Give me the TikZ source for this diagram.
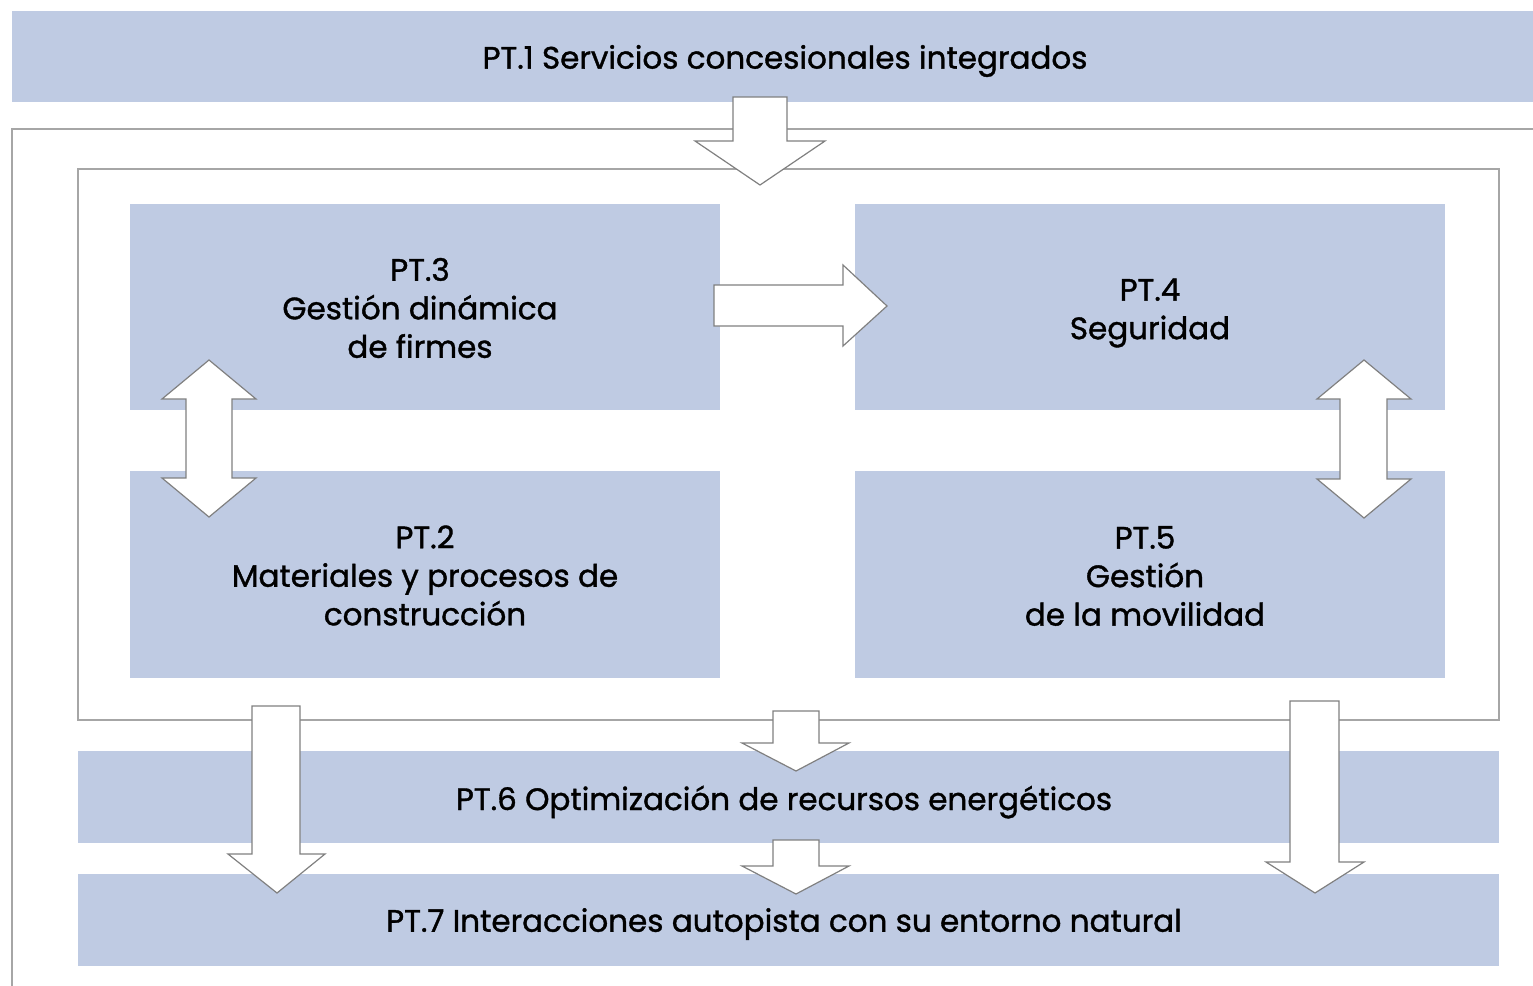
\documentclass[tikz,border=0pt]{standalone}
\usepackage{fontspec}
\setmainfont{Poppins}[UprightFeatures={FakeBold=1.2}]
\definecolor{bandblue}{RGB}{191,203,227}
\definecolor{framegray}{RGB}{166,166,166}
\definecolor{arrowgray}{RGB}{128,128,128}
\begin{document}
\begin{tikzpicture}[x=1pt,y=-1pt,
  box/.style={fill=bandblue, draw=none, inner sep=0pt},
  lbl/.style={inner sep=0pt, align=center, font=\fontsize{31}{38.5}\selectfont},
  frame/.style={draw=framegray, line width=2pt},
  blockarrow/.style={draw=arrowgray, fill=white, line width=1.2pt, line join=miter}]
\useasboundingbox (0,0) rectangle (1533,985);
% bands
\node[box, minimum width=1521pt, minimum height=91pt] (pt1) at (772.5,56.5) {};
\node[lbl] (t1) at (785,61) {PT.1 Servicios concesionales integrados};
\node[box, minimum width=1421pt, minimum height=92pt] (pt6) at (788.5,797) {};
\node[lbl] (t6) at (784,802) {PT.6 Optimización de recursos energéticos};
\node[box, minimum width=1421pt, minimum height=92pt] (pt7) at (788.5,920) {};
\node[lbl] (t7) at (784,924) {PT.7 Interacciones autopista con su entorno natural};
% frames
\begin{scope}
\clip (0,0) rectangle (1533,985);
\draw[frame] (12,990) -- (12,129) -- (1540,129);
\end{scope}
\draw[frame] (78,169) rectangle (1499,720);
% inner boxes
\node[box, minimum width=590pt, minimum height=206pt] (pt3) at (425,307) {};
\node[lbl] (t3) at (420,308) {PT.3\\Gestión dinámica\\de firmes};
\node[box, minimum width=590pt, minimum height=206pt] (pt4) at (1150,307) {};
\node[lbl] (t4) at (1150,313) {PT.4\\Seguridad};
\node[box, minimum width=590pt, minimum height=207pt] (pt2) at (425,574.5) {};
\node[lbl] (t2) at (425,575.5) {PT.2\\Materiales y procesos de\\construcción};
\node[box, minimum width=590pt, minimum height=207pt] (pt5) at (1150,574.5) {};
\node[lbl] (t5) at (1145,576) {PT.5\\Gestión\\de la movilidad};
% block arrows
% PT.1 down
\draw[blockarrow] (733,97) -- (787,97) -- (787,141) -- (825,141) -- (760,185) -- (695,141) -- (733,141) -- cycle;
% PT.3 -> PT.4
\draw[blockarrow] (714,285) -- (843,285) -- (843,265) -- (887,306) -- (843,346) -- (843,326) -- (714,326) -- cycle;
% PT.3 <-> PT.2
\draw[blockarrow] (209,360) -- (256,399) -- (232,399) -- (232,478) -- (256,478) -- (209,517) -- (162,478) -- (186,478) -- (186,399) -- (162,399) -- cycle;
% PT.4 <-> PT.5
\draw[blockarrow] (1364,360) -- (1411,399) -- (1387,399) -- (1387,479) -- (1411,479) -- (1364,518) -- (1317,479) -- (1340,479) -- (1340,399) -- (1317,399) -- cycle;
% long left down
\draw[blockarrow] (252,706) -- (300,706) -- (300,854) -- (325,854) -- (277,893) -- (228,854) -- (252,854) -- cycle;
% middle small 1
\draw[blockarrow] (773,711) -- (819,711) -- (819,743) -- (849,743) -- (796,771) -- (742,743) -- (773,743) -- cycle;
% middle small 2
\draw[blockarrow] (773,840) -- (819,840) -- (819,866) -- (849,866) -- (796,894) -- (742,866) -- (773,866) -- cycle;
% long right down
\draw[blockarrow] (1290,701) -- (1339,701) -- (1339,862) -- (1364,862) -- (1315,893) -- (1266,862) -- (1290,862) -- cycle;
\end{tikzpicture}
\end{document}
